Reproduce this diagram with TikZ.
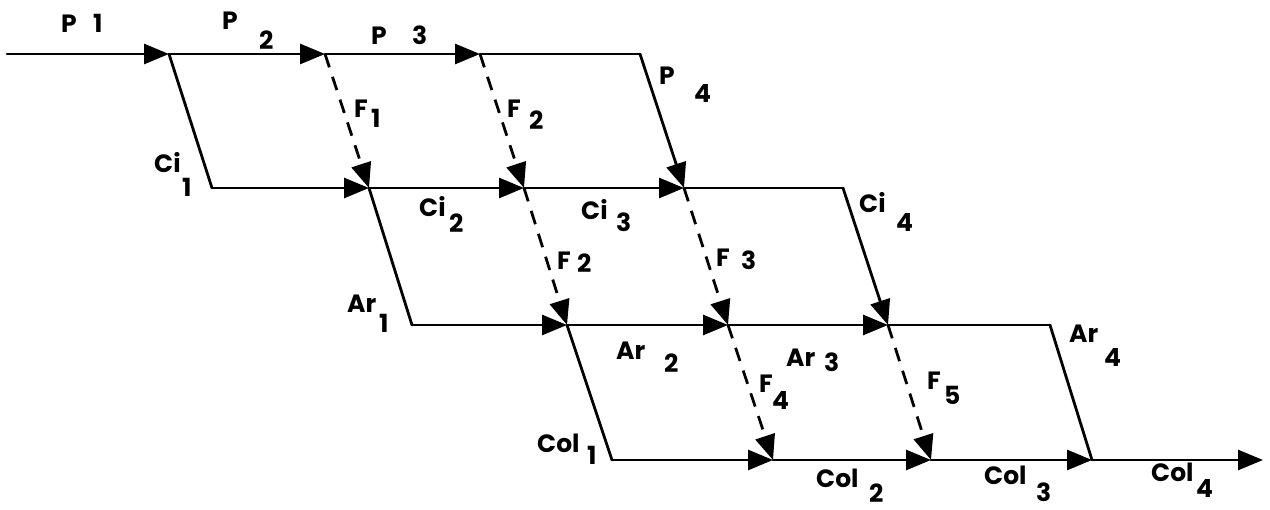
\documentclass[tikz,border=0pt]{standalone}
\usepackage{fontspec}
\setmainfont{Poppins}
\usetikzlibrary{arrows.meta}
\tikzset{
  ln/.style={line width=2.8pt, line cap=round, line join=round},
  arr/.style={ln, -{Triangle[length=25pt,width=20pt]}},
  dsh/.style={ln, line cap=butt, dash pattern=on 14pt off 10pt, -{Triangle[length=25pt,width=20pt]}},
  lbl/.style={anchor=base west, inner sep=0pt, font=\fontsize{25}{29}\selectfont\bfseries}
}
\newcommand\lbl[7]{\node[lbl] (#1) at (#2,#3) {\rlap{#4}\kern#5pt\raisebox{-#6pt}{#7}};}
\begin{document}
\begin{tikzpicture}[x=1pt,y=-1pt]
\useasboundingbox[fill=white] (0,0) rectangle (1270,510);
% row 1 (P)
\coordinate (s)  at (7,54);
\coordinate (a1) at (169,54);
\coordinate (a2) at (325,54);
\coordinate (a3) at (480,54);
\coordinate (a4) at (640,54);
% row 2 (Ci)
\coordinate (b0) at (212,188);
\coordinate (b1) at (369,188);
\coordinate (b2) at (524,188);
\coordinate (b3) at (684,188);
\coordinate (b4) at (843,188);
% row 3 (Ar)
\coordinate (c0) at (412,325);
\coordinate (c1) at (567,325);
\coordinate (c2) at (728,325);
\coordinate (c3) at (888,325);
\coordinate (c4) at (1050,325);
% row 4 (Col)
\coordinate (d0) at (612,460);
\coordinate (d1) at (773,460);
\coordinate (d2) at (931,460);
\coordinate (d3) at (1092,460);
\coordinate (d4) at (1263,460);

% P
\draw[arr] (s) -- (a1);
\draw[arr] (a1) -- (a2);
\draw[arr] (a2) -- (a3);
\draw[ln] (a3) -- (a4);
\draw[arr] (a4) -- (b3);
% Ci
\draw[ln] (a1) -- (b0);
\draw[arr] (b0) -- (b1);
\draw[arr] (b1) -- (b2);
\draw[arr] (b2) -- (b3);
\draw[ln] (b3) -- (b4);
\draw[arr] (b4) -- (c3);
% Ar
\draw[ln] (b1) -- (c0);
\draw[arr] (c0) -- (c1);
\draw[arr] (c1) -- (c2);
\draw[arr] (c2) -- (c3);
\draw[ln] (c3) -- (c4);
\draw[ln] (c4) -- (d3);
% Col
\draw[ln] (c1) -- (d0);
\draw[arr] (d0) -- (d1);
\draw[arr] (d1) -- (d2);
\draw[arr] (d2) -- (d3);
\draw[arr] (d3) -- (d4);
% F (dashed)
\draw[dsh] (a2) -- (b1);
\draw[dsh] (a3) -- (b2);
\draw[dsh] (b2) -- (c1);
\draw[dsh] (b3) -- (c2);
\draw[dsh] (c2) -- (d1);
\draw[dsh] (c3) -- (d2);

% labels
\lbl{lP1}{61}{33}{P}{32}{0}{1}
\lbl{lP2}{222}{30}{P}{37}{20}{2}
\lbl{lP3}{371}{45}{P}{41}{0}{3}
\lbl{lP4}{659}{85}{P}{35}{18}{4}
\lbl{lF1}{354}{118}{F}{17}{10}{1}
\lbl{lF2a}{507}{118}{F}{22}{12}{2}
\lbl{lCi1}{154}{173}{Ci}{28}{24}{1}
\lbl{lCi2}{419}{217}{Ci}{30}{16}{2}
\lbl{lCi3}{581}{220}{Ci}{35}{12}{3}
\lbl{lCi4}{859}{213}{Ci}{37}{19}{4}
\lbl{lF2b}{557}{270}{F}{20}{3}{2}
\lbl{lF3}{716}{267}{F}{25}{3}{3}
\lbl{lAr1}{347}{313}{Ar}{32}{20}{1}
\lbl{lAr2}{616}{360}{Ar}{48}{13}{2}
\lbl{lAr3}{786}{367}{Ar}{38}{5}{3}
\lbl{lAr4}{1069}{343}{Ar}{35}{24}{4}
\lbl{lF4}{759}{393}{F}{13}{17}{4}
\lbl{lF5}{927}{390}{F}{17}{15}{5}
\lbl{lCol1}{537}{453}{Col}{50}{12}{1}
\lbl{lCol2}{816}{488}{Col}{53}{15}{2}
\lbl{lCol3}{984}{485}{Col}{52}{17}{3}
\lbl{lCol4}{1151}{482}{Col}{45}{16}{4}
\end{tikzpicture}
\end{document}
